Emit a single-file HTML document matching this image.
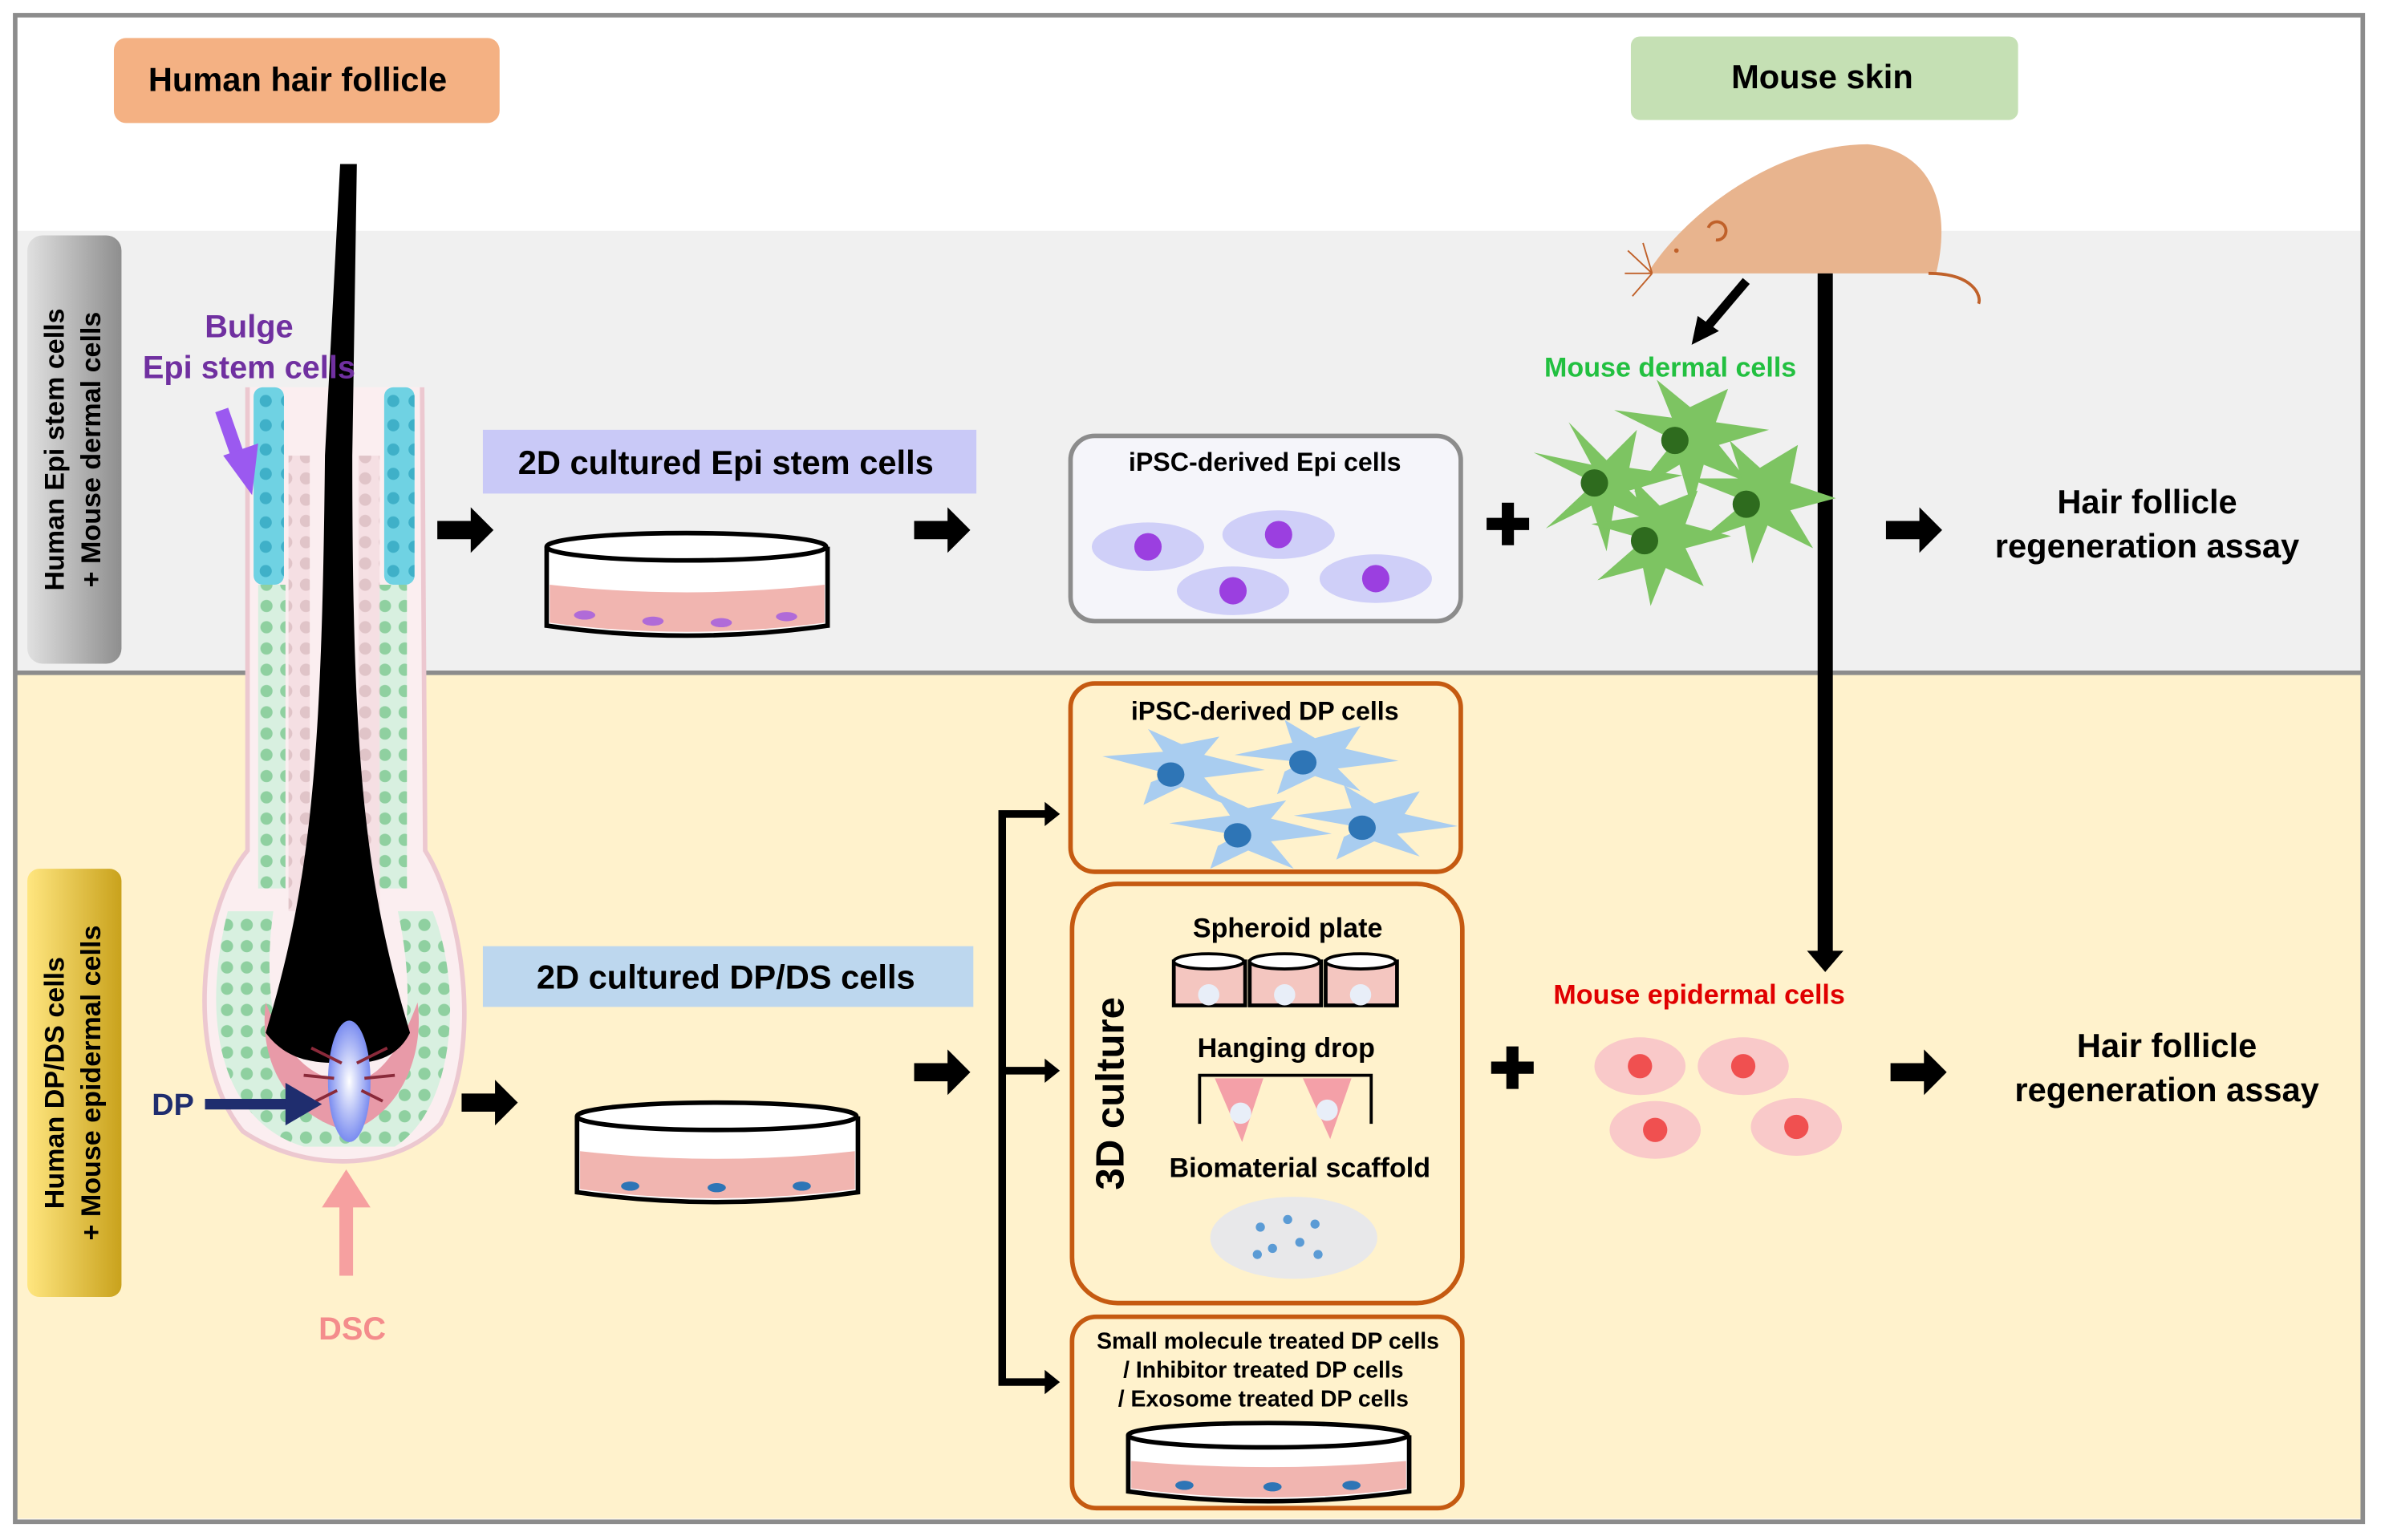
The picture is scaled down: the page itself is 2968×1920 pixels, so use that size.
<!DOCTYPE html>
<html><head><meta charset="utf-8"><style>
html,body{margin:0;padding:0;background:#fff}
svg{display:block}
text{font-family:"Liberation Sans",Arial,sans-serif;font-weight:bold}
</style></head><body>
<svg width="2968" height="1920" viewBox="0 0 1568 1014" preserveAspectRatio="none" xmlns="http://www.w3.org/2000/svg">
<defs>
<linearGradient id="gg" x1="0" x2="1"><stop offset="0" stop-color="#e0e0e0"/><stop offset="1" stop-color="#8e8e8e"/></linearGradient>
<linearGradient id="yg" x1="0" x2="1"><stop offset="0" stop-color="#ffe680"/><stop offset="1" stop-color="#c9a21c"/></linearGradient>
<radialGradient id="dp"><stop offset="0" stop-color="#fff"/><stop offset="1" stop-color="#7a8cf0"/></radialGradient>
<pattern id="cb" width="14" height="16" patternUnits="userSpaceOnUse"><rect width="14" height="16" fill="#6fd2e3"/><circle cx="7" cy="8" r="4" fill="#3fb0c8"/></pattern>
<pattern id="cg" width="13" height="14" patternUnits="userSpaceOnUse"><rect width="13" height="14" fill="#d8f0e0"/><circle cx="6.5" cy="7" r="4" fill="#8fd0a0"/></pattern>
<pattern id="cp" width="13" height="14" patternUnits="userSpaceOnUse"><rect width="13" height="14" fill="#f5dfe3"/><circle cx="6.5" cy="7" r="4" fill="#e0c4c8"/></pattern>
</defs>
<rect x="0" y="0" width="1568" height="1014" fill="#fff"/>
<rect x="11" y="152" width="1544" height="290" fill="#f0f0f0"/>
<rect x="11" y="444" width="1544" height="556" fill="#fff2cc"/>
<line x1="11" y1="443" x2="1555" y2="443" stroke="#8c8c8c" stroke-width="3"/>
<rect x="10" y="10" width="1546" height="992" fill="none" stroke="#8c8c8c" stroke-width="3"/>

<rect x="18" y="155" width="62" height="282" rx="10" fill="url(#gg)"/>
<text transform="translate(42,296) rotate(-90)" font-size="18" text-anchor="middle">Human Epi stem cells</text>
<text transform="translate(66,296) rotate(-90)" font-size="18" text-anchor="middle">+ Mouse dermal cells</text>
<rect x="18" y="572" width="62" height="282" rx="8" fill="url(#yg)"/>
<text transform="translate(42,713) rotate(-90)" font-size="18" text-anchor="middle">Human DP/DS cells</text>
<text transform="translate(66,713) rotate(-90)" font-size="18" text-anchor="middle">+ Mouse epidermal cells</text>

<rect x="75" y="25" width="254" height="56" rx="8" fill="#f4b183"/>
<text x="196" y="60" font-size="22" text-anchor="middle">Human hair follicle</text>
<rect x="1074" y="24" width="255" height="55" rx="6" fill="#c5e0b4"/>
<text x="1200" y="58" font-size="22" text-anchor="middle">Mouse skin</text>

<!-- follicle -->
<path d="M163,255 L163,560 C130,600 122,700 160,745 C200,772 260,772 290,740 C318,690 305,600 280,560 L278,255" fill="#fbeef0" stroke="#ecc8d0" stroke-width="3"/>
<rect x="167" y="255" width="20" height="130" rx="6" fill="url(#cb)"/>
<rect x="253" y="255" width="20" height="130" rx="6" fill="url(#cb)"/>
<rect x="170" y="385" width="18" height="200" fill="url(#cg)"/>
<rect x="250" y="385" width="18" height="200" fill="url(#cg)"/>
<rect x="190" y="300" width="14" height="300" fill="url(#cp)"/>
<rect x="236" y="300" width="14" height="300" fill="url(#cp)"/>
<path d="M150,600 C130,680 150,740 200,755 L260,755 C300,730 305,650 285,600 L262,600 C275,660 270,720 230,740 C190,730 170,670 180,600z" fill="url(#cg)"/>
<path d="M175,660 C170,700 190,735 230,745 C260,735 280,700 275,660 C260,700 245,712 230,712 C210,712 190,700 175,660z" fill="#e89aa8"/>
<path d="M224,108 L235,108 L232,300 C232,500 240,580 270,680 C260,700 240,700 228,700 C210,700 190,700 175,680 C205,580 212,500 214,300z" fill="#000"/>
<ellipse cx="230" cy="712" rx="14" ry="40" fill="url(#dp)"/>
<g stroke="#8a2a3a" stroke-width="2"><path d="M205,690 L225,700 M255,690 L235,700 M200,708 L220,710 M260,708 L240,710 M208,725 L222,718 M252,725 L238,718"/></g>
<text x="164" y="222" font-size="21" fill="#7030a0" text-anchor="middle">Bulge</text>
<text x="164" y="249" font-size="21" fill="#7030a0" text-anchor="middle">Epi stem cells</text>
<path d="M146,270 L160,310" stroke="#9b59f0" stroke-width="9"/><path d="M147,300 L166,326 L170,292z" fill="#9b59f0"/>
<text x="100" y="734" font-size="20" fill="#1f2d6e">DP</text>
<path d="M135,727 L190,727" stroke="#1f2d6e" stroke-width="7"/><path d="M188,713 L212,727 L188,741z" fill="#1f2d6e"/>
<path d="M228,840 L228,790" stroke="#f6a0a0" stroke-width="9"/><path d="M212,795 L228,770 L244,795z" fill="#f6a0a0"/>
<text x="232" y="882" font-size="21" fill="#f48c8c" text-anchor="middle">DSC</text>

<!-- arrows -->
<g fill="#000">
<path d="M288,343h22v-9l15,15l-15,15v-9h-22z"/>
<path d="M602,343h22v-9l15,15l-15,15v-9h-22z"/>
<path d="M304,720h22v-9l15,15l-15,15v-9h-22z"/>
<path d="M602,700h22v-9l15,15l-15,15v-9h-22z"/>
<path d="M1242,343h22v-9l15,15l-15,15v-9h-22z"/>
<path d="M1245,700h22v-9l15,15l-15,15v-9h-22z"/>
<path d="M979,341h10v-10h8v10h10v8h-10v10h-8v-10h-10z"/>
<path d="M982,699h10v-10h8v10h10v8h-10v10h-8v-10h-10z"/>
</g>

<rect x="318" y="283" width="325" height="42" fill="#c9c9f7"/>
<text x="478" y="312" font-size="22" text-anchor="middle">2D cultured Epi stem cells</text>
<rect x="318" y="623" width="323" height="40" fill="#bdd7ee"/>
<text x="478" y="651" font-size="22" text-anchor="middle">2D cultured DP/DS  cells</text>

<!-- dishes -->
<g stroke="#000" stroke-width="3">
<path d="M360,360 L360,412 Q452,425 545,412 L545,360" fill="#fff"/>
<path d="M362,385 Q452,395 543,385 L543,410 Q452,422 362,410z" fill="#f1b5b0" stroke="none"/>
<ellipse cx="452" cy="360" rx="92" ry="9" fill="#fff"/>
<path d="M380,735 L380,785 Q472,798 565,785 L565,735" fill="#fff"/>
<path d="M382,758 Q472,768 563,758 L563,783 Q472,795 382,783z" fill="#f1b5b0" stroke="none"/>
<ellipse cx="472" cy="735" rx="92" ry="9" fill="#fff"/>
<path d="M743,945 L743,982 Q835,995 928,982 L928,945" fill="#fff"/>
<path d="M745,962 Q835,970 926,962 L926,980 Q835,992 745,980z" fill="#f1b5b0" stroke="none"/>
<ellipse cx="835" cy="945" rx="92" ry="8" fill="#fff"/>
</g>
<g fill="#b06bd8"><ellipse cx="385" cy="405" rx="7" ry="3"/><ellipse cx="430" cy="409" rx="7" ry="3"/><ellipse cx="475" cy="410" rx="7" ry="3"/><ellipse cx="518" cy="406" rx="7" ry="3"/></g>
<g fill="#2e75b6"><ellipse cx="415" cy="781" rx="6" ry="3"/><ellipse cx="472" cy="782" rx="6" ry="3"/><ellipse cx="528" cy="781" rx="6" ry="3"/><ellipse cx="780" cy="978" rx="6" ry="3"/><ellipse cx="838" cy="979" rx="6" ry="3"/><ellipse cx="890" cy="978" rx="6" ry="3"/></g>

<!-- iPSC epi box -->
<rect x="705" y="287" width="257" height="122" rx="16" fill="#f5f5fa" stroke="#8c8c8c" stroke-width="3"/>
<text x="833" y="310" font-size="17" text-anchor="middle">iPSC-derived Epi cells</text>
<g fill="#cfcff8"><ellipse cx="756" cy="360" rx="37" ry="16"/><ellipse cx="842" cy="352" rx="37" ry="16"/><ellipse cx="812" cy="389" rx="37" ry="16"/><ellipse cx="906" cy="381" rx="37" ry="16"/></g>
<g fill="#9b3fe0"><circle cx="756" cy="360" r="9"/><circle cx="842" cy="352" r="9"/><circle cx="812" cy="389" r="9"/><circle cx="906" cy="381" r="9"/></g>

<!-- mouse -->
<path d="M1085,180 C1110,140 1170,95 1230,95 C1275,100 1285,140 1275,180z" fill="#e8b48e"/>
<path d="M1270,180 C1300,180 1305,195 1303,200" stroke="#c0612a" stroke-width="2" fill="none"/>
<path d="M1125,150 a6,6 0 1 1 5,8" stroke="#c0612a" stroke-width="2" fill="none"/>
<g stroke="#c0612a" stroke-width="1"><path d="M1088,180 L1072,165 M1088,180 L1070,180 M1088,180 L1075,195 M1088,180 L1082,160"/></g>
<circle cx="1104" cy="165" r="1.5" fill="#c0612a"/>
<path d="M1150,185 L1122,218" stroke="#000" stroke-width="6"/><path d="M1114,227 L1118,208 L1132,218z" fill="#000"/>
<line x1="1202" y1="180" x2="1202" y2="628" stroke="#000" stroke-width="10"/>
<path d="M1190,626 L1214,626 L1202,640z" fill="#000"/>
<text x="1100" y="248" font-size="18" fill="#22c040" text-anchor="middle">Mouse dermal cells</text>
<g fill="#7dc462"><path d="M1050,318 l-40,-20 l38,8 l-15,-28 l25,25 l20,-20 l-5,25 l35,5 l-35,10 l25,25 l-35,-15 l-5,30 l-10,-30 l-30,15z"/>
<path d="M1103,290 l-40,-20 l38,5 l-10,-25 l22,18 l25,-12 l-8,22 l35,5 l-33,10 l20,25 l-30,-12 l-8,28 l-8,-28 l-30,18z"/>
<path d="M1150,330 l-38,-15 l35,0 l-8,-25 l20,18 l25,-15 l-5,25 l30,10 l-30,8 l15,25 l-30,-15 l-10,25 l-5,-25 l-30,10z"/>
<path d="M1083,355 l-35,-10 l32,-5 l-5,-25 l18,18 l25,-10 l-8,22 l30,8 l-30,8 l12,25 l-25,-12 l-10,25 l-5,-25 l-30,8z"/></g>
<g fill="#2e6b1e"><circle cx="1050" cy="318" r="9"/><circle cx="1103" cy="290" r="9"/><circle cx="1150" cy="332" r="9"/><circle cx="1083" cy="356" r="9"/></g>

<text x="1414" y="338" font-size="22" text-anchor="middle">Hair follicle</text>
<text x="1414" y="367" font-size="22" text-anchor="middle">regeneration assay</text>
<text x="1427" y="696" font-size="22" text-anchor="middle">Hair follicle</text>
<text x="1427" y="725" font-size="22" text-anchor="middle">regeneration assay</text>

<text x="1119" y="661" font-size="18" fill="#e00000" text-anchor="middle">Mouse epidermal cells</text>
<g fill="#f9c9c9"><ellipse cx="1080" cy="702" rx="30" ry="19"/><ellipse cx="1148" cy="702" rx="30" ry="19"/><ellipse cx="1090" cy="744" rx="30" ry="19"/><ellipse cx="1183" cy="742" rx="30" ry="19"/></g>
<g fill="#f05050"><circle cx="1080" cy="702" r="8"/><circle cx="1148" cy="702" r="8"/><circle cx="1090" cy="744" r="8"/><circle cx="1183" cy="742" r="8"/></g>

<!-- bracket -->
<path d="M690,536 L660,536 L660,910 L690,910 M660,705 L690,705" stroke="#000" stroke-width="5" fill="none"/>
<path d="M688,528 L698,536 L688,544z M688,697 L698,705 L688,713z M688,902 L698,910 L688,918z" fill="#000"/>

<!-- orange boxes -->
<g fill="none" stroke="#c55a11" stroke-width="3">
<rect x="705" y="450" width="257" height="124" rx="16"/>
<rect x="706" y="582" width="257" height="276" rx="30"/>
<rect x="706" y="867" width="257" height="126" rx="16"/>
</g>
<text x="833" y="474" font-size="17" text-anchor="middle">iPSC-derived DP cells</text>
<g fill="#a9cdf0">
<path d="M771,510 l-45,-12 l40,-3 l-10,-15 l22,10 l25,-5 l-10,12 l40,10 l-40,5 l15,18 l-30,-12 l-25,12 l5,-15z"/>
<path d="M858,502 l-45,-5 l38,-8 l-5,-15 l20,12 l30,-8 l-10,15 l35,8 l-40,5 l15,15 l-30,-10 l-25,12 l5,-15z"/>
<path d="M815,550 l-45,-8 l40,-5 l-10,-15 l22,10 l25,-5 l-10,12 l40,10 l-40,5 l15,18 l-30,-12 l-25,12 l5,-15z"/>
<path d="M897,545 l-45,-8 l38,-5 l-5,-15 l20,12 l30,-8 l-10,15 l35,8 l-40,5 l15,15 l-30,-10 l-25,12 l5,-15z"/>
</g>
<g fill="#2e75b6"><ellipse cx="771" cy="510" rx="9" ry="8"/><ellipse cx="858" cy="502" rx="9" ry="8"/><ellipse cx="815" cy="550" rx="9" ry="8"/><ellipse cx="897" cy="545" rx="9" ry="8"/></g>

<text transform="translate(740,720) rotate(-90)" font-size="26" text-anchor="middle">3D culture</text>
<text x="848" y="617" font-size="18" text-anchor="middle">Spheroid plate</text>
<g stroke="#000" stroke-width="2.5" fill="#f4c6c0">
<path d="M773,633 L773,662 L820,662 L820,633z"/><path d="M823,633 L823,662 L870,662 L870,633z"/><path d="M873,633 L873,662 L920,662 L920,633z"/>
</g>
<g stroke="#000" stroke-width="2" fill="#fff"><ellipse cx="796" cy="633" rx="23" ry="5"/><ellipse cx="846" cy="633" rx="23" ry="5"/><ellipse cx="896" cy="633" rx="23" ry="5"/></g>
<g fill="#e8eef8"><circle cx="796" cy="655" r="7"/><circle cx="846" cy="655" r="7"/><circle cx="896" cy="655" r="7"/></g>
<text x="847" y="696" font-size="18" text-anchor="middle">Hanging drop</text>
<path d="M790,740 L790,708 L903,708 L903,740" stroke="#000" stroke-width="2" fill="none"/>
<path d="M800,710 L832,710 L818,752z M858,710 L890,710 L876,750z" fill="#f4a0a8"/>
<circle cx="817" cy="733" r="7" fill="#e8eef8"/><circle cx="874" cy="731" r="7" fill="#e8eef8"/>
<text x="856" y="775" font-size="18" text-anchor="middle">Biomaterial scaffold</text>
<ellipse cx="852" cy="815" rx="55" ry="27" fill="#e8e8ea"/>
<g fill="#5b9bd5"><circle cx="830" cy="808" r="3"/><circle cx="848" cy="803" r="3"/><circle cx="866" cy="806" r="3"/><circle cx="838" cy="822" r="3"/><circle cx="856" cy="818" r="3"/><circle cx="868" cy="826" r="3"/><circle cx="828" cy="826" r="3"/></g>

<text x="835" y="888" font-size="15" text-anchor="middle">Small molecule  treated DP cells</text>
<text x="832" y="907" font-size="15" text-anchor="middle">/ Inhibitor treated DP cells</text>
<text x="832" y="926" font-size="15" text-anchor="middle">/ Exosome treated DP cells</text>
</svg>
</body></html>
